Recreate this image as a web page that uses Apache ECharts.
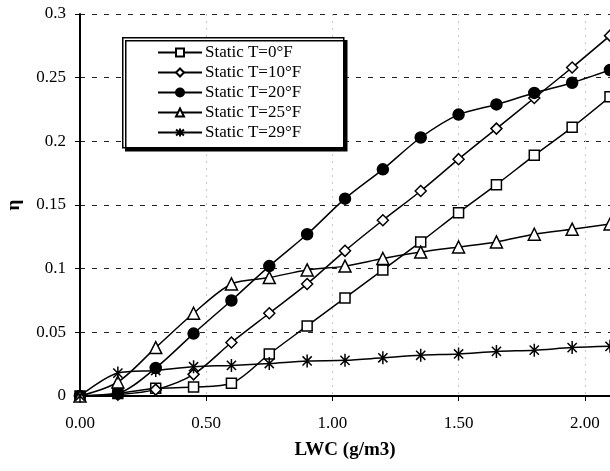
<!DOCTYPE html>
<html><head><meta charset="utf-8">
<script src="https://cdn.jsdelivr.net/npm/echarts@6/dist/echarts.min.js"></script>
<style>html,body{margin:0;padding:0;background:#fff}#c{width:610px;height:471px}</style>
</head><body><div id="c"></div>
<script>
var lwc = [0, 0.15, 0.3, 0.45, 0.6, 0.75, 0.9, 1.05, 1.2, 1.35, 1.5, 1.65, 1.8, 1.95, 2.1];
var t0  = [0, 0.002, 0.006, 0.007, 0.010, 0.033, 0.055, 0.077, 0.099, 0.121, 0.144, 0.166, 0.189, 0.211, 0.235];
var t10 = [0, 0.001, 0.005, 0.017, 0.042, 0.065, 0.088, 0.114, 0.138, 0.161, 0.186, 0.210, 0.234, 0.258, 0.283];
var t20 = [0, 0.002, 0.022, 0.049, 0.075, 0.102, 0.127, 0.155, 0.178, 0.203, 0.221, 0.229, 0.238, 0.246, 0.256];
var t25 = [0, 0.011, 0.038, 0.065, 0.088, 0.093, 0.099, 0.102, 0.108, 0.113, 0.117, 0.121, 0.127, 0.131, 0.135];
var t29 = [0, 0.018, 0.020, 0.023, 0.024, 0.0255, 0.0275, 0.028, 0.030, 0.032, 0.033, 0.035, 0.036, 0.038, 0.039];
var names = ['Static T=0°F', 'Static T=10°F', 'Static T=20°F', 'Static T=25°F', 'Static T=29°F'];

function pairs(ys){ return lwc.map(function(x,i){ return [x, ys[i]]; }); }
var serif = 'Liberation Serif';
var star = 'path://M0,-10L0,10M-7.07,-7.07L7.07,7.07M-7.07,7.07L7.07,-7.07';

function mk(name, ys, symbol, size, fill){
  return {
    name: name, type: 'line', data: pairs(ys), smooth: 0.3,
    symbol: symbol, symbolSize: size, showSymbol: true, clip: false,
    symbolKeepAspect: true,
    lineStyle: {color: '#000', width: 1.5},
    itemStyle: {color: fill, borderColor: '#000', borderWidth: 1.5},
    z: 3
  };
}

var chart = echarts.init(document.getElementById('c'), null, {renderer: 'canvas'});
chart.setOption({
  animation: false,
  backgroundColor: '#fff',
  grid: {left: 80, right: 0, top: 14, bottom: 75, containLabel: false, outerBoundsMode: 'none'},
  graphic: [{
    type: 'rect', left: 122, top: 37, z: 10,
    shape: {width: 221, height: 110},
    style: {fill: '#fff', stroke: '#000', lineWidth: 1.5,
            shadowColor: '#000', shadowOffsetX: 3, shadowOffsetY: 3, shadowBlur: 0}
  }],
  legend: {
    orient: 'vertical', left: 157, top: 44, z: 20, padding: 0,
    itemWidth: 44, itemHeight: 10, itemGap: 3,
    data: names,
    textStyle: {fontFamily: serif, fontSize: 17, color: '#000', padding: [0,0,0,-2]}
  },
  xAxis: [{
    type: 'value', min: 0, max: 2.1, interval: 0.5,
    axisLine: {show: true, onZero: false, lineStyle: {color: '#000', width: 2}},
    axisTick: {show: true, inside: false, length: 5, lineStyle: {color: '#000', width: 1}},
    axisLabel: {showMaxLabel: false, margin: 19, fontFamily: serif, fontSize: 17, color: '#000',
      formatter: function(v){ return v.toFixed(2); }},
    splitLine: {show: true, lineStyle: {color: '#c8c8c8', type: [2, 5], width: 1}},
    name: 'LWC (g/m3)', nameLocation: 'middle', nameGap: 45,
    nameTextStyle: {fontFamily: serif, fontSize: 19, fontWeight: 'bold', color: '#000'}
  }, {
    type: 'value', position: 'top', min: 0, max: 2.1,
    axisLine: {show: true, lineStyle: {color: '#000', width: 2}},
    axisTick: {show: false}, axisLabel: {show: false}, splitLine: {show: false}
  }],
  yAxis: {
    type: 'value', min: 0, max: 0.3, interval: 0.05,
    axisLine: {show: true, lineStyle: {color: '#000', width: 2}},
    axisTick: {show: true, length: 5, lineStyle: {color: '#000', width: 1}},
    axisLabel: {margin: 14, fontFamily: serif, fontSize: 17, color: '#000',
      formatter: function(v){ return String(+v.toFixed(2)); }},
    splitLine: {show: true, lineStyle: {color: '#222', type: [5, 7], width: 1.2}},
    name: 'η', nameLocation: 'middle', nameGap: 56, nameRotate: 90,
    nameTextStyle: {fontFamily: serif, fontSize: 19, fontWeight: 'bold', color: '#000'}
  },
  series: [
    mk(names[0], t0, 'rect', 10, '#fff'),
    mk(names[1], t10, 'diamond', 11, '#fff'),
    mk(names[2], t20, 'circle', 11, '#000'),
    mk(names[3], t25, 'triangle', 12, '#fff'),
    mk(names[4], t29, star, 13, '#000')
  ]
});
</script></body></html>
